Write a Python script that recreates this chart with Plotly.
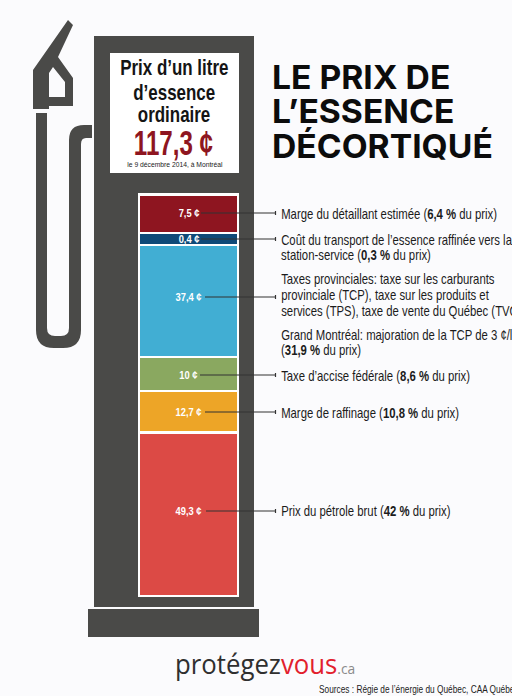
import json
import plotly.graph_objects as go

# ---- data ----
components = ["Marge du détaillant", "Transport", "Taxes provinciales", "Taxe d'accise", "Marge de raffinage", "Pétrole brut"]
cents = ["7,5", "0,4", "37,4", "10", "12,7", "49,3"]
drawn_heights = [36, 10, 110, 32, 39, 161]   # bar lengths as printed (the original is not to scale)
gaps = [0, 2, 2, 2, 2, 3]
colors = ["#8e1520", "#0f4a78", "#41aed3", "#8aa860", "#eda527", "#dc4a45"]
label_right = [199, 199, 202, 197, 202, 202]
leader_start = [201, 201, 205, 200, 205, 206]
leader_y = [213, 239, 297, 375, 412, 511]

desc_lines = [
    "Marge du détaillant estimée (<b>6,4 %</b> du prix)",
    "Coût du transport de l’essence raffinée vers la",
    "station-service (<b>0,3 %</b> du prix)",
    "Taxes provinciales: taxe sur les carburants",
    "provinciale (TCP), taxe sur les produits et",
    "services (TPS), taxe de vente du Québec (TVQ)",
    "Grand Montréal: majoration de la TCP de 3 ¢/l",
    "(<b>31,9 %</b> du prix)",
    "Taxe d’accise fédérale (<b>8,6 %</b> du prix)",
    "Marge de raffinage (<b>10,8 %</b> du prix)",
    "Prix du pétrole brut (<b>42 %</b> du prix)",
]
desc_y = [214, 240, 255, 279, 295, 311, 335, 350, 376, 413, 511]

title_lines = ["LE PRIX DE", "L’ESSENCE", "DÉCORTIQUÉ"]
title_y = [77, 111, 146]
box_lines = ["Prix d’un litre", "d’essence", "ordinaire"]
box_y = [67, 92, 114]
total = "117,3 ¢"
date = "le 9 décembre 2014, à Montréal"
source = "Sources : Régie de l’énergie du Québec, CAA Québec"

SANS = "Liberation Sans"
DARK = "#4a4a48"
BG = "#fbfbfd"

# bases of the stacked segments
bases = []
pos = 196
for h, g in zip(drawn_heights, gaps):
    pos += g
    bases.append(pos)
    pos += h

fig = go.Figure()
fig.add_bar(
    x=[188.5] * 6, y=drawn_heights, base=bases, width=97,
    marker=dict(color=colors, line=dict(width=0)),
    name="", customdata=components, hoverinfo="skip",
)

def rect(x0, y0, x1, y1, color, layer="below"):
    return dict(type="rect", x0=x0, y0=y0, x1=x1, y1=y1, fillcolor=color, line_width=0, layer=layer)

def path(d, color):
    return dict(type="path", path=d, fillcolor=color, line_width=0, layer="below")

shapes = [
    rect(94, 36, 254, 607, DARK),
    rect(88, 609, 259, 637, DARK),
    rect(110, 53, 239, 173, "#ffffff"),
    rect(138, 193, 239, 597, "#ffffff"),
    # nozzle
    path("M68,20 L73,25 L58,57 L73,78 L73,106 L49,106 L49,109 L33,109 L33,70 Z "
         "M53,67 L65,82 L65,97 L49,97 L49,73 Z", DARK),
    # hose
    path("M36,113 L47,113 L47,328 Q47,336 55,336 L61,336 Q69,336 69,328 L69,140 "
         "Q69,125 84,125 L92,125 L92,138 L86,138 Q81,138 81,144 L81,330 "
         "Q81,348 63,348 L54,348 Q36,348 36,330 Z", DARK),
]
for x0, y in zip(leader_start, leader_y):
    shapes.append(dict(type="line", x0=x0, x1=275.5, y0=y, y1=y, line=dict(color="#333333", width=1.2), layer="above"))
    shapes.append(dict(type="line", x0=275.5, x1=275.5, y0=y - 2, y1=y + 2, line=dict(color="#333333", width=1.2), layer="above"))

ann = []
squeeze = []   # horizontal condensing of each text (the reference uses a condensed face)
def text(x, y, s, size, color="#111111", font=SANS, anchor="left", sx=1.0):
    ann.append(dict(x=x, y=y, xref="x", yref="y", text=s, showarrow=False, xanchor=anchor, yanchor="middle",
                    font=dict(family=font, size=size, color=color), borderpad=0, borderwidth=0))
    squeeze.append([sx, anchor])

for s, y in zip(title_lines, title_y):
    text(272, y, f"<b>{s}</b>", 33, "#0c0c0c", "Inter", sx=1.02)
for s, y in zip(box_lines, box_y):
    text(174, y, f"<b>{s}</b>", 22, "#141414", SANS, "center", sx=0.77)
text(173, 142, f"<b>{total}</b>", 35, "#8e1520", SANS, "center", sx=0.69)
text(174.5, 164, date, 7.5, "#222222", SANS, "center", sx=0.9)
for c, xr, y in zip(cents, label_right, leader_y):
    text(xr, y, f"<b>{c} ¢</b>", 11, "#ffffff", SANS, "right", sx=0.85)
for s, y in zip(desc_lines, desc_y):
    text(281, y, s, 14, "#1c1c1c", sx=0.81)
text(175, 663, '<span style="color:#2f2f2f">protégez</span><span style="color:#e2202c">vous</span>'
               '<span style="color:#8a8a8a;font-size:15px">.ca</span>', 28, "#2f2f2f", "Open Sans", sx=0.92)
text(319, 689, source, 10.5, "#222222", sx=0.79)

fig.update_layout(
    width=512, height=696, margin=dict(l=0, r=0, t=0, b=0), autosize=False,
    paper_bgcolor=BG, plot_bgcolor=BG, showlegend=False,
    xaxis=dict(range=[0, 512], visible=False, fixedrange=True),
    yaxis=dict(range=[696, 0], visible=False, fixedrange=True),
    shapes=shapes, annotations=ann, barmode="overlay",
)

post = """
document.body.style.margin='0';
var sq = %s;
document.querySelectorAll('.annotation').forEach(function(g){
  var i = +g.getAttribute('data-index');
  var t = g.querySelector('text');
  if(!t || !sq[i] || sq[i][0]===1) return;
  var b = t.getBBox();
  var a = sq[i][1]==='left' ? b.x : sq[i][1]==='right' ? b.x+b.width : b.x+b.width/2;
  t.setAttribute('transform','translate('+a+',0) scale('+sq[i][0]+',1) translate('+(-a)+',0)');
});
""" % json.dumps(squeeze)
fig.write_html("out.html", config=dict(displayModeBar=False), post_script=post)
